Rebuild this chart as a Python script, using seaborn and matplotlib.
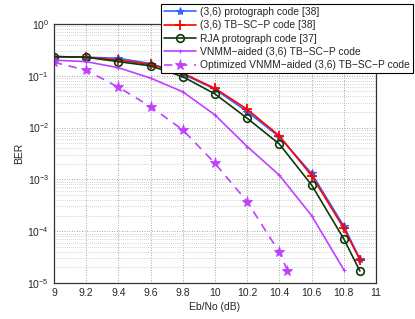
import numpy as np
import pandas as pd
import seaborn as sns
import matplotlib
matplotlib.use("Agg")
import matplotlib.pyplot as plt
from matplotlib.ticker import LogLocator, NullFormatter

# Eb/No (dB) grid and BER values
snr_main = [9.0, 9.2, 9.4, 9.6, 9.8, 10.0, 10.2, 10.4, 10.6, 10.8, 10.9]
ber_proto = [0.234, 0.228, 0.217, 0.172, 0.108, 0.055, 0.0203, 0.0066, 0.0013, 1.26e-4, 2.9e-5]
ber_tbscp = [0.234, 0.228, 0.200, 0.165, 0.112, 0.057, 0.0225, 0.0069, 0.00118, 1.14e-4, 2.8e-5]
ber_rja = [0.234, 0.228, 0.187, 0.155, 0.096, 0.0445, 0.0151, 0.0048, 7.8e-4, 7.1e-5, 1.7e-5]

snr_vnmm = [9.0, 9.2, 9.4, 9.6, 9.8, 10.0, 10.2, 10.4, 10.6, 10.8]
ber_vnmm = [0.20, 0.187, 0.143, 0.09, 0.049, 0.0175, 0.0043, 0.0012, 2.0e-4, 1.8e-5]

snr_opt = [9.0, 9.2, 9.4, 9.6, 9.8, 10.0, 10.2, 10.4, 10.45]
ber_opt = [0.182, 0.128, 0.06, 0.0254, 0.009, 0.00204, 3.7e-4, 3.9e-5, 1.73e-5]

labels = ["(3,6) protograph code [38]",
          "(3,6) TB\u2212SC\u2212P code [38]",
          "RJA protograph code [37]",
          "VNMM\u2212aided (3,6) TB\u2212SC\u2212P code",
          "Optimized VNMM\u2212aided (3,6) TB\u2212SC\u2212P code"]

sns.set_style("white")
plt.rcParams['font.family'] = ['Liberation Sans', 'DejaVu Sans']
plt.rcParams['axes.linewidth'] = 0.9

fig = plt.figure(figsize=(4.15, 3.19), dpi=100)
ax = fig.add_axes([0.130, 0.113, 0.776, 0.812])

purple = "#c040ff"
series = [
    (snr_main, ber_proto, dict(color="#3366ff", marker="*", markersize=6, markeredgewidth=0.8,
                               markeredgecolor="#3366ff", markerfacecolor="#3366ff", linestyle="-")),
    (snr_main, ber_tbscp, dict(color="#ff0000", marker="+", markersize=7, markeredgewidth=1.3,
                               markeredgecolor="#ff0000", linestyle="-")),
    (snr_main, ber_rja, dict(color="#0a3a0a", marker="o", markersize=5.5, markerfacecolor="none",
                             markeredgecolor="#0a3a0a", markeredgewidth=1.2, linestyle="-")),
    (snr_vnmm, ber_vnmm, dict(color=purple, marker="+", markersize=3, markeredgewidth=0.8,
                              markeredgecolor=purple, linestyle="-")),
    (snr_opt, ber_opt, dict(color=purple, marker="*", markersize=8, markeredgewidth=0.6,
                            markeredgecolor=purple, markerfacecolor=purple, linestyle=(0, (5, 4)))),
]
handles = []
for (x, y, style), lab in zip(series, labels):
    df = pd.DataFrame({"snr": x, "ber": y})
    sns.lineplot(data=df, x="snr", y="ber", ax=ax, legend=False, linewidth=1.2)
    line = ax.lines[-1]
    line.set(**style)
    line.set_label(lab)
    handles.append(line)

ax.set_yscale("log")
ax.set_xlim(9, 11)
ax.set_ylim(1e-5, 1)
ax.set_xticks(np.arange(9, 11.01, 0.2))
ax.set_xticklabels(["9", "9.2", "9.4", "9.6", "9.8", "10", "10.2", "10.4", "10.6", "10.8", "11"])
ax.yaxis.set_major_locator(LogLocator(base=10, numticks=10))
ax.yaxis.set_minor_locator(LogLocator(base=10, subs=np.arange(2, 10), numticks=20))
ax.yaxis.set_minor_formatter(NullFormatter())
ax.tick_params(axis="both", which="both", direction="in", labelsize=7.5, length=3, color="#444444")
ax.tick_params(which="minor", length=1.5)
ax.grid(True, which="major", linestyle=(0, (1, 2)), color="#888888", linewidth=0.6)
ax.grid(True, which="minor", axis="y", linestyle=(0, (1, 2)), color="#aaaaaa", linewidth=0.5)
for s in ax.spines.values():
    s.set_color("#333333")

ax.set_xlabel("Eb/No (dB)", fontsize=7.5, labelpad=3)
ax.set_ylabel("BER", fontsize=7.5, labelpad=2)

leg = ax.legend(handles=handles, labels=labels, loc="upper right",
                bbox_to_anchor=(413 / 415, 1 - 4 / 319),
                bbox_transform=fig.transFigure, fontsize=7.4, frameon=True,
                fancybox=False, framealpha=1, edgecolor="black",
                handlelength=3.1, handletextpad=0.45, borderpad=0.3, labelspacing=0.32,
                borderaxespad=0)
leg.get_frame().set_linewidth(0.8)

fig.savefig("out.png", dpi=100)
